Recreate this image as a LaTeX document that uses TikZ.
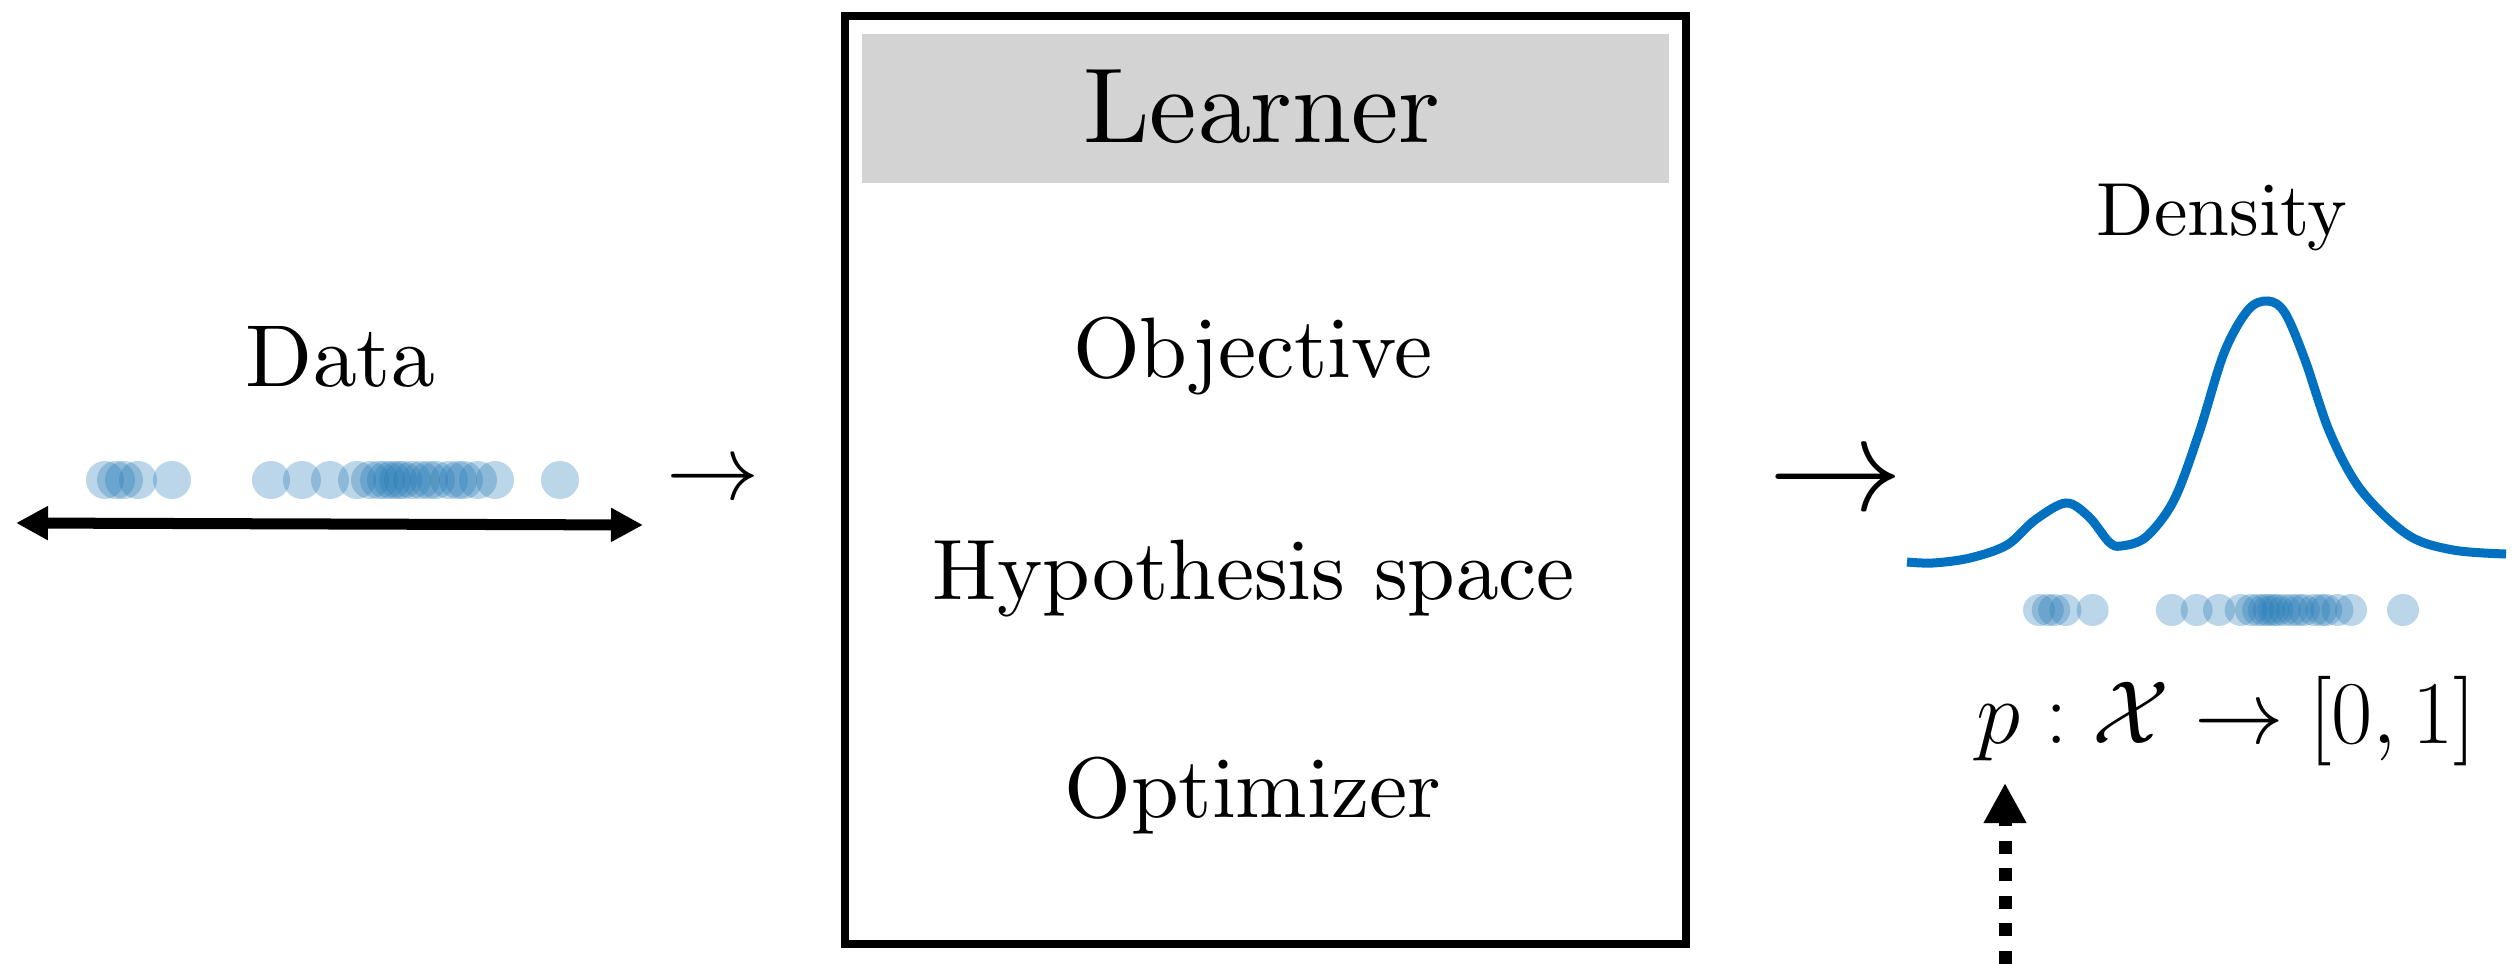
\RequirePackage{fix-cm}
\documentclass[tikz,border=0pt]{standalone}
\usetikzlibrary{arrows.meta}
\definecolor{curveblue}{RGB}{0,112,192}
\definecolor{dotblue}{RGB}{31,119,180}
\definecolor{headgray}{RGB}{211,211,211}
\font\fLearner=cmr10 at 30.3pt
\font\fItem=cmr10 at 24.4pt
\font\fData=cmr10 at 25pt
\font\fDens=cmr10 at 21.4pt
\begin{document}
\begin{tikzpicture}[x=0.01cm,y=-0.01cm,
  txt/.style={inner sep=0pt, anchor=base},
  dotstyle/.style={fill=dotblue, fill opacity=0.3},
  learnerbox/.style={draw=black, line width=0.08cm},
  headbox/.style={fill=headgray, draw=none},
  axisarrow/.style={line width=0.11cm, {Triangle[length=0.32cm,width=0.32cm]}-{Triangle[length=0.32cm,width=0.32cm]}},
  dotarrow/.style={line width=0.13cm, dash pattern=on 0.13cm off 0.145cm, -{Triangle[length=0.4cm,width=0.4cm]}},
  densitycurve/.style={curveblue, line width=0.09cm}]
\useasboundingbox (0,0) rectangle (2518,964);

% Learner box
\draw[learnerbox] (845,16) rectangle (1686,944);
\fill[headbox] (862,34) rectangle (1669,183);
\node[txt] (learner) at (1262,143) {\fLearner Learner};
\node[txt] (objective) at (1253,378) {\fItem Objective};
\node[txt] (hypothesis) at (1254,600) {\fItem Hypothesis space};
\node[txt] (optimizer) at (1253,817) {\fItem Optimizer};

% Data side
\node[txt] (data) at (340,387) {\fData Data};
\foreach \x in {105,116,124,138,172,271,302,330,357,370,379,386,392,398,403,412,421,429,436,449,458,464,478,495,560}
  \fill[dotstyle] (\x,480) circle[radius=0.19cm];
\coordinate (axl) at (16,523);
\coordinate (axr) at (643,525);
\draw[axisarrow] (axl) -- (axr);

% arrows as glyphs
\node[txt] (arrL) at (713,500) {\fontsize{26.5}{32}\selectfont$\rightarrow$};
\node[txt] (arrR) at (1836,511) {\fontsize{38.3}{46}\selectfont$\rightarrow$};

% Density side
\node[txt] (density) at (2222,236) {\fDens Density};
\draw[densitycurve] plot[smooth, tension=0.55] coordinates {
 (1907,562) (1933,563) (1970,558) (2007,545) (2035,520) (2066,503) (2089,517)
 (2109,542) (2121,546) (2146,537) (2174,500) (2199,433) (2224,353) (2248,310)
 (2268,301) (2285,313) (2305,360) (2330,433) (2361,490) (2408,535) (2453,550) (2506,554)};
\foreach \x in {105,116,124,138,172,271,302,330,357,370,379,386,392,398,403,412,421,429,436,449,458,464,478,495,560}
  \fill[dotstyle] ({2039+0.8*(\x-105)},610) circle[radius=0.16cm];

\node[txt] (map) at (2226,743) {\fontsize{25.5}{31}\selectfont$p:\mathcal{X}\to[0,1]$};
\coordinate (dbot) at (2005,964);
\coordinate (dtip) at (2005,783);
\draw[dotarrow] (dbot) -- (dtip);
\end{tikzpicture}
\end{document}
